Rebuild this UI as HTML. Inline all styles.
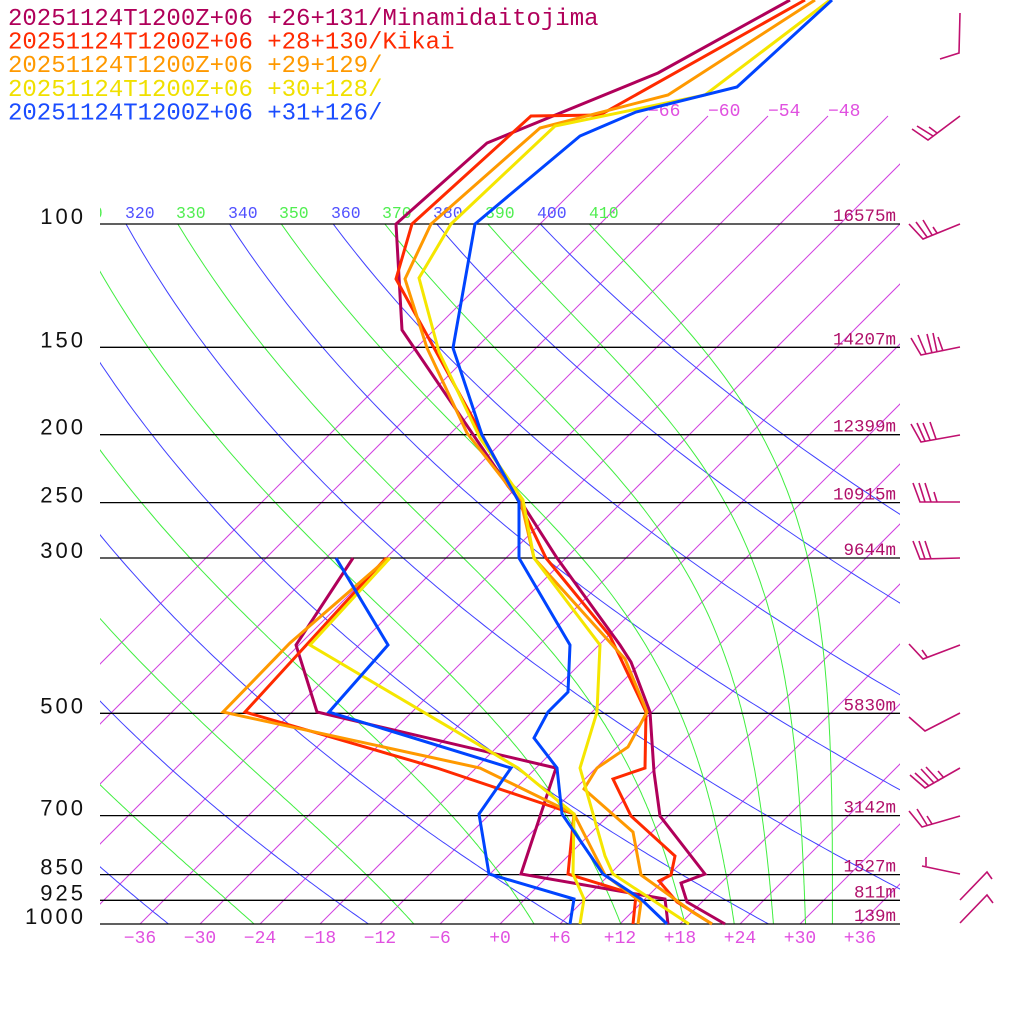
<!DOCTYPE html>
<html><head><meta charset="utf-8">
<style>
html,body{margin:0;padding:0;background:#fff;}
svg{display:block;}
</style></head>
<body>
<svg id="c" width="1024" height="1024" viewBox="0 0 1024 1024" xmlns="http://www.w3.org/2000/svg"></svg>
<script>
var Y=function(p){return 924-304*Math.log(1000/p);};
var X=function(T,y){return 500+10*T+(924-y);};
var s='';
s+='<defs><clipPath id="pc"><rect x="100" y="224" width="800" height="700"/></clipPath><clipPath id="pc2"><rect x="100" y="100" width="800" height="824"/></clipPath><clipPath id="lc"><rect x="100" y="190" width="800" height="40"/></clipPath></defs>';
s+='<g clip-path="url(#pc2)" stroke="#d040e0" stroke-width="1" fill="none">';
for(var T=-66;T<=96;T+=6){var x0=500+10*T;s+='<line x1="'+x0+'" y1="924" x2="'+(x0+808)+'" y2="116"/>';}
s+='</g>';
s+='<g clip-path="url(#pc)" fill="none" stroke="#4040ff" stroke-width="1">';
for(var th=200;th<=400;th+=20){var pts=[];for(var p=95;p<=1000;p+=5){var t=th*Math.pow(p/1000,0.2857)-273.15;var y=Y(p);pts.push(X(t,y).toFixed(1)+','+y.toFixed(1));}s+='<polyline points="'+pts.join(' ')+'"/>';}
s+='</g>';
function es(Tc){return 6.112*Math.exp(17.67*Tc/(Tc+243.5));}
function the(TK,p){var Tc=TK-273.15;var e=es(Tc);if(e>p*0.5)e=p*0.5;var r=0.622*e/(p-e);var th=TK*Math.pow(1000/p,0.2857*(1-0.28*r));var rg=r*1000;return th*Math.exp((3376/TK-2.54)*rg*(1+0.00081*rg)/1000);}
s+='<g clip-path="url(#pc)" fill="none" stroke="#40ee40" stroke-width="1">';
for(var th=210;th<=410;th+=20){var pts=[];for(var p=95;p<=1000;p+=5){var lo=120,hi=340;for(var i=0;i<40;i++){var m=(lo+hi)/2;if(the(m,p)>th)hi=m;else lo=m;}var y=Y(p);pts.push(X(lo-273.15,y).toFixed(1)+','+y.toFixed(1));}s+='<polyline points="'+pts.join(' ')+'"/>';}
s+='</g>';
var P=[[100,'100','16575m'],[150,'150','14207m'],[200,'200','12399m'],[250,'250','10915m'],[300,'300','9644m'],[500,'500','5830m'],[700,'700','3142m'],[850,'850','1527m'],[925,'925','811m'],[1000,'1000','139m']];
P.forEach(function(a){var y=Y(a[0]).toFixed(1);s+='<line x1="100" y1="'+y+'" x2="900" y2="'+y+'" stroke="#000" stroke-width="1.3"/>';
s+='<text x="86" y="'+(+y)+'" text-anchor="end" font-family="Liberation Sans, sans-serif" font-size="22" letter-spacing="3" fill="#111">'+a[1]+'</text>';
s+='<text x="896" y="'+(+y-3)+'" text-anchor="end" font-family="Liberation Mono, monospace" font-size="17.5" fill="#b0106a">'+a[2]+'</text>';});
s+='<g clip-path="url(#lc)" font-family="Liberation Mono, monospace" font-size="16.5">';
var lx=[73,125,176,228,279,331,382,433,485,537,589];
for(var i=0;i<11;i++){s+='<text x="'+lx[i]+'" y="218" fill="'+(i%2?'#5050ff':'#50ee50')+'">'+(310+i*10)+'</text>';}
s+='</g>';
s+='<g font-family="Liberation Mono, monospace" font-size="18" fill="#e050e0" text-anchor="middle">';
for(var T=-36;T<=36;T+=6){s+='<text x="'+(500+10*T)+'" y="943">'+(T>=0?'+'+T:'\u2212'+(-T))+'</text>';}
s+='</g>';
s+='<g font-family="Liberation Mono, monospace" font-size="18" fill="#e050e0">';
[[648,'\u221266'],[708,'\u221260'],[768,'\u221254'],[828,'\u221248']].forEach(function(a){s+='<text x="'+a[0]+'" y="116">'+a[1]+'</text>';});
s+='</g>';
var prof=[
['#b0005a','790,0 658,73 487,143 396,224 402,330 508,486 523,505 557,558 620,645 631,662 650,712 654,772 660,816 705,874 681,883 687,902 725,924','353,558 296,645 317,712 556,768 521,874 665,899 668,924'],
['#ff2a00','805,0 600,115 531,116 412,224 396,279 518,500 546,558 610,636 646,712 645,768 613,779 631,816 675,856 671,875 659,881 677,902 712,924','386,558 245,712 437,768 574,814 568,874 636,895 633,924'],
['#ff9900','815,0 668,95 540,128 431,224 405,279 427,348 467,433 521,502 534,558 625,659 647,712 628,747 597,768 584,789 633,832 641,875 694,913 712,924','388,558 290,643 223,712 480,768 574,814 605,875 641,902 638,924'],
['#f5e600','830,0 705,95 555,126 451,224 419,278 439,352 480,438 523,500 534,558 600,645 597,712 580,768 605,856 613,874 689,924','390,558 310,645 518,768 574,814 573,874 584,899 580,924'],
['#0044ff','832,0 737,87 636,112 580,136 475,224 453,348 482,435 519,502 519,558 570,645 568,692 548,712 534,738 557,768 562,814 603,874 641,899 667,924','336,558 388,645 329,712 511,768 479,814 489,874 574,899 570,924']];
s+='<g fill="none" stroke-width="3" stroke-linejoin="miter">';
prof.forEach(function(a){s+='<polyline points="'+a[1]+'" stroke="'+a[0]+'"/><polyline points="'+a[2]+'" stroke="'+a[0]+'"/>';});
s+='</g>';
var tt=[['#b0005a','20251124T1200Z+06 +26+131/Minamidaitojima'],['#ff2a00','20251124T1200Z+06 +28+130/Kikai'],['#ff9900','20251124T1200Z+06 +29+129/'],['#f0e000','20251124T1200Z+06 +30+128/'],['#1a4cff','20251124T1200Z+06 +31+126/']];
s+='<g font-family="Liberation Mono, monospace" font-size="24">';
tt.forEach(function(a,i){s+='<text x="8" y="'+(25+i*23.6)+'" fill="'+a[0]+'">'+a[1]+'</text>';});
s+='</g>';
var B=['960,13 959,53 940,59',
'960,116 928,140 912,129','933,136 917,126','937,133 929,127',
'960,224 923,239 909,224','927,237 916,222','932,235 923,220','937,233 933,227',
'960,347 921,355 911,338','926,354 918,335','932,353 927,334','937,352 933,333','943,351 938,337',
'960,435 921,442 911,424','925,441 917,423','930,440 923,423','936,439 930,422',
'960,502 920,502 913,483','925,502 919,483','931,502 925,483','937,502 934,492',
'960,558 920,559 913,541','925,559 919,541','931,559 925,541',
'960,645 923,659 909,644','927,657 922,650',
'960,713 925,731 909,717',
'960,768 925,788 910,775','929,786 915,773','934,783 921,769','939,781 926,767','944,778 938,771',
'960,816 922,827 909,811','927,825 917,809','932,824 927,816',
'960,874 922,866','926,866 926,857',
'960,900 987,872 992,879','960,923 987,895 993,903'];
s+='<g fill="none" stroke="#c0106f" stroke-width="1.6">';
B.forEach(function(b){s+='<polyline points="'+b+'"/>';});
s+='</g>';
document.getElementById('c').innerHTML=s;
</script>
</body></html>
